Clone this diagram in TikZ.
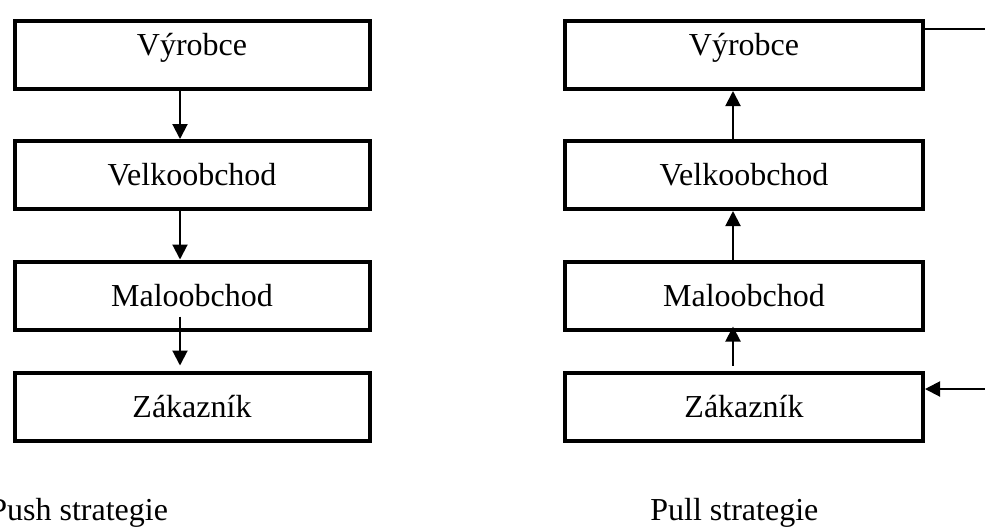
\documentclass[tikz,border=0pt]{standalone}
\usepackage{fontspec}
\setmainfont{Liberation Serif}
\usetikzlibrary{arrows.meta}
\tikzset{
  box/.style={draw,line width=2pt,minimum width=177.5pt,minimum height=34pt,
    inner sep=0pt,font=\fontsize{16}{19}\selectfont},
  rbox/.style={box,minimum width=179pt},
  raised/.style={text height=9pt,text depth=9pt},
  caption/.style={anchor=base west,inner sep=0pt,font=\fontsize{16}{19}\selectfont}
}
\begin{document}
\begin{tikzpicture}[x=0.5pt,y=-0.5pt]
  \useasboundingbox (0,0) rectangle (985,527);
  \draw
    (192,55) node[box,raised] (l1){Výrobce}
    (192,175) node[box] (l2){Velkoobchod}
    (192,295.5) node[box] (l3){Maloobchod}
    (192,406.5) node[box] (l4){Zákazník}
    (744,55) node[rbox,raised] (r1){Výrobce}
    (744,175) node[rbox] (r2){Velkoobchod}
    (744,295.5) node[rbox] (r3){Maloobchod}
    (744,406.5) node[rbox] (r4){Zákazník}
    (-11,520) node[caption] (push){Push strategie}
    (650,520) node[caption] (pull){Pull strategie};
  \coordinate (rtop) at (985,29);
  \coordinate (rbot) at (985,389);
  \begin{scope}[-{Triangle[width=7.5pt,length=7.5pt]},line width=1pt]
    \draw ([xshift=-6pt]l1.south) to ([xshift=-6pt]l2.north);
    \draw ([xshift=-6pt]l2.south) to ([xshift=-6pt]l3.north);
    \draw ([shift={(-6pt,7.5pt)}]l3.south) to ([shift={(-6pt,2.5pt)}]l4.north);
    \draw ([xshift=-5.5pt]r2.north) to ([xshift=-5.5pt]r1.south);
    \draw ([xshift=-5.5pt]r3.north) to ([xshift=-5.5pt]r2.south);
    \draw ([shift={(-5.5pt,2.5pt)}]r4.north) to ([shift={(-5.5pt,2.5pt)}]r3.south);
    \draw (rbot) to (r4.east |- rbot);
  \end{scope}
  \draw[line width=1pt] (r1.east |- rtop) -- (rtop);
\end{tikzpicture}
\end{document}
